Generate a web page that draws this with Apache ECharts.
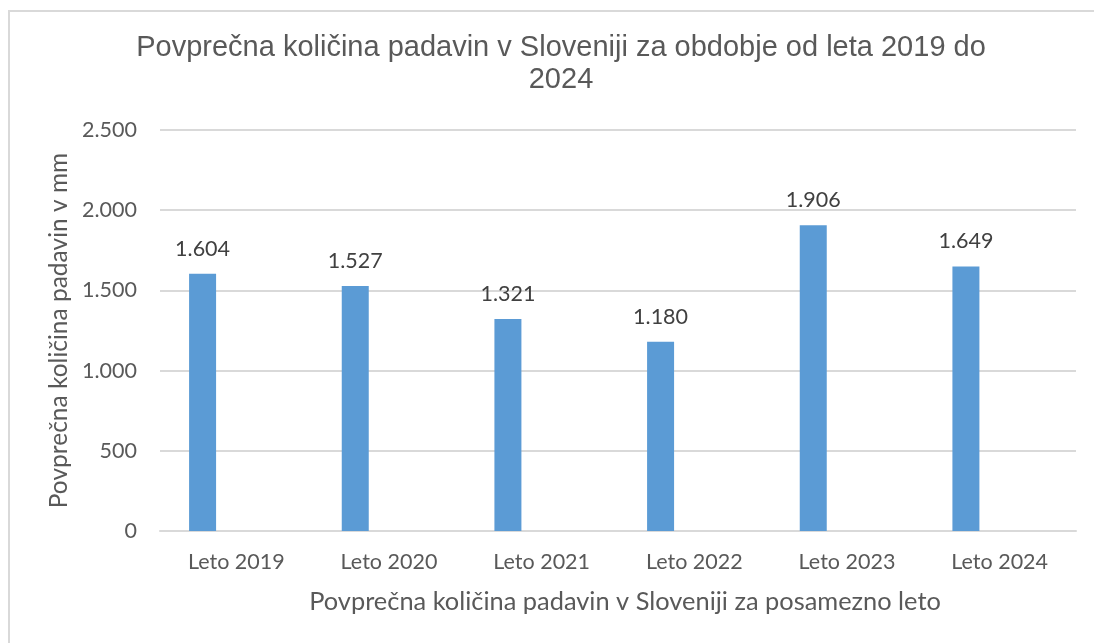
<!DOCTYPE html>
<html lang="sl">
<head>
    <meta charset="UTF-8">
    <title>Povprečna količina padavin</title>
    <style>
        html, body {
            margin: 0;
            padding: 0;
            width: 100%;
            height: 100%;
            overflow: hidden;
            background: #fff;
        }
        #frame {
            position: absolute;
            left: 8px;
            top: 10px;
            width: 1200px;
            height: 800px;
            border-left: 2px solid #d9d9d9;
            border-top: 2px solid #d9d9d9;
        }
        #chart {
            position: absolute;
            left: 0;
            top: 0;
            width: 1094px;
            height: 643px;
        }
    </style>
</head>
<body>
    <div id="frame"></div>
    <div id="chart"></div>

<script src="https://cdn.jsdelivr.net/npm/echarts@6/dist/echarts.min.js"></script>
<script>
    // podatki
    var categories = ['Leto 2019', 'Leto 2020', 'Leto 2021', 'Leto 2022', 'Leto 2023', 'Leto 2024'];
    var padavine = [1604, 1527, 1321, 1180, 1906, 1649];
    // druga serija v izvirniku je prazna, zato so stolpci zamaknjeni levo
    var prazno = [null, null, null, null, null, null];

    var textColor = '#595959';
    var labelFont = 'Lato, "Open Sans", sans-serif';

    function fmt(v) {
        return String(v).replace(/\B(?=(\d{3})+(?!\d))/g, '.');
    }

    var chart = echarts.init(document.getElementById('chart'), null, { renderer: 'canvas' });

    var option = {
        animation: false,
        backgroundColor: 'transparent',
        title: {
            text: 'Povprečna količina padavin v Sloveniji za obdobje od leta 2019 do\n2024',
            left: 556,
            top: 27,
            textAlign: 'center',
            textStyle: {
                fontFamily: '"Liberation Sans", Arial, sans-serif',
                fontSize: 29,
                fontWeight: 'normal',
                color: textColor,
                lineHeight: 32
            }
        },
        grid: {
            left: 160,
            right: 18,
            top: 130,
            bottom: 112
        },
        xAxis: {
            type: 'category',
            data: categories,
            name: 'Povprečna količina padavin v Sloveniji za posamezno leto',
            nameLocation: 'middle',
            nameGap: 58,
            nameTextStyle: {
                fontFamily: labelFont,
                fontSize: 25.4,
                color: textColor,
                padding: [0, 0, 0, 14]
            },
            axisLine: { lineStyle: { color: '#d9d9d9', width: 2 } },
            axisTick: { show: false },
            axisLabel: {
                margin: 20,
                fontFamily: labelFont,
                fontSize: 21.5,
                color: textColor
            }
        },
        yAxis: {
            type: 'value',
            min: 0,
            max: 2500,
            interval: 500,
            name: 'Povprečna količina padavin v mm',
            nameLocation: 'middle',
            nameGap: 84,
            nameTextStyle: {
                fontFamily: labelFont,
                fontSize: 24.5,
                color: textColor
            },
            axisLine: { show: false },
            axisTick: { show: false },
            axisLabel: {
                margin: 23,
                fontFamily: labelFont,
                fontSize: 21.5,
                color: textColor,
                formatter: function (v) { return fmt(v); }
            },
            splitLine: { lineStyle: { color: '#d9d9d9', width: 2 } }
        },
        series: [{
            name: 'Padavine',
            type: 'bar',
            data: padavine,
            barWidth: 27,
            barGap: '150%',
            itemStyle: { color: '#5b9bd5' },
            label: {
                show: true,
                position: 'top',
                distance: 14,
                fontFamily: labelFont,
                fontSize: 21.5,
                color: '#404040',
                formatter: function (p) { return fmt(p.value); }
            }
        }, {
            name: 'Serija 2',
            type: 'bar',
            data: prazno,
            barWidth: 27,
            itemStyle: { color: '#ed7d31' }
        }]
    };

    chart.setOption(option);
</script>
</body>
</html>
